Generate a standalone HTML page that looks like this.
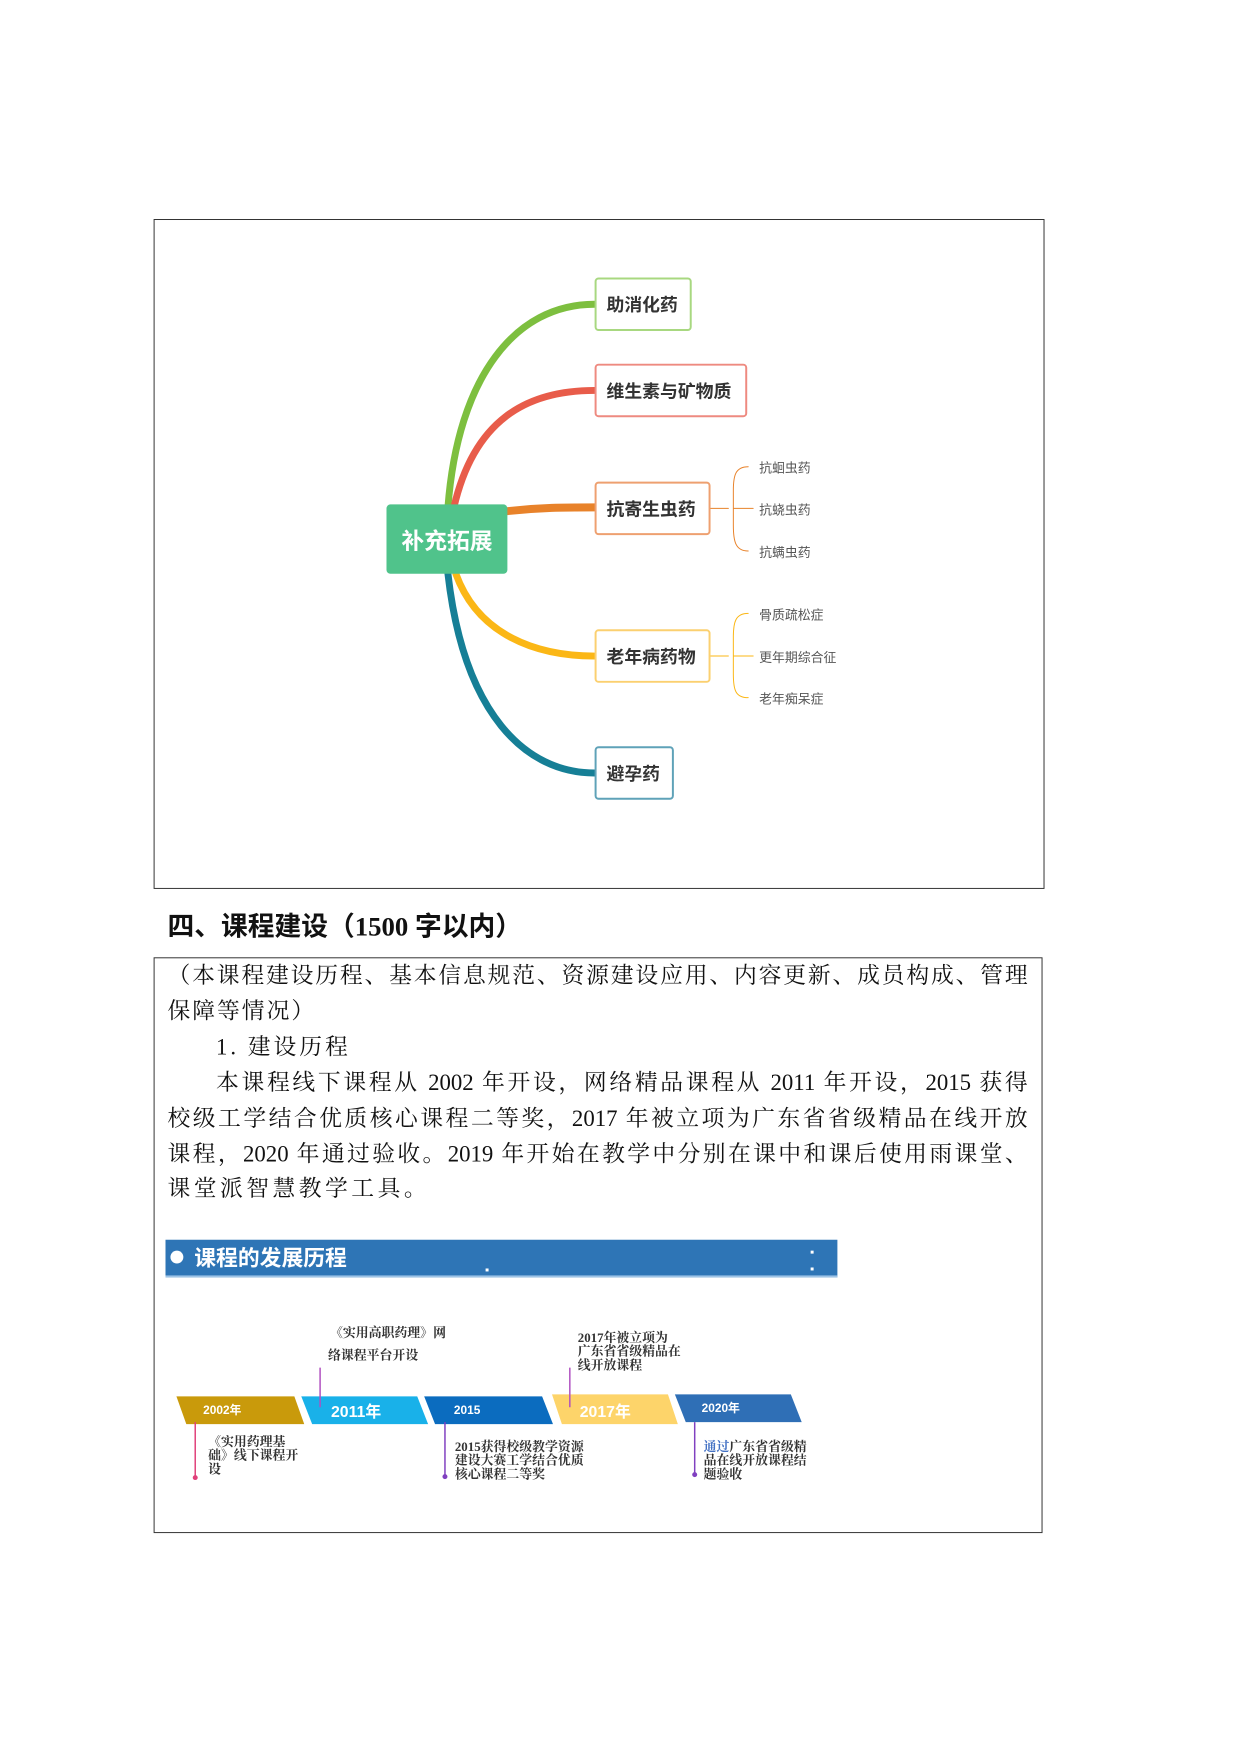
<!DOCTYPE html>
<html><head><meta charset="utf-8"><style>
body{margin:0;width:1240px;height:1753px;background:#fff;position:relative;overflow:hidden;font-family:"Liberation Serif","Noto Serif CJK SC",serif;}
#w{position:absolute;left:0;top:0;width:1240px;height:1753px;transform:scale(0.991);transform-origin:0 0;}
.a{position:absolute;}
.box{position:absolute;border:1.5px solid #333;}
.ln{position:absolute;left:169px;width:868px;font-size:23px;height:36px;line-height:36px;color:#111;white-space:nowrap;}
.j{text-align:justify;text-align-last:justify;}
.node{position:absolute;background:#fff;border:2px solid;border-radius:4px;font-family:"Liberation Sans","Noto Sans CJK SC",sans-serif;font-weight:bold;font-size:18px;color:#333;display:flex;align-items:center;padding-left:10px;box-sizing:border-box;}
.sub{position:absolute;font-family:"Liberation Sans","Noto Sans CJK SC",sans-serif;font-size:13px;color:#555;}
.tt{position:absolute;font-size:13px;font-weight:bold;color:#333;line-height:14px;white-space:nowrap;}
</style></head><body><div id="w">
<div class="box" style="left:155px;top:221px;width:897px;height:674px;"></div>
<svg class="a" style="left:0;top:0" width="1240" height="900">
<g fill="none" stroke-linecap="round">
<path d="M452,512 C462,380 520,307 600,307" stroke="#7dbf3f" stroke-width="7"/>
<path d="M458,512 C478,425 530,394 600,394" stroke="#e85c4a" stroke-width="7"/>
<path d="M510,516 C545,512 570,512 600,512" stroke="#e8822a" stroke-width="8"/>
<path d="M460,579 C482,640 540,662 600,662" stroke="#fbb716" stroke-width="7"/>
<path d="M452,579 C468,720 530,780 600,780" stroke="#167f96" stroke-width="7"/>
<path d="M717,513 H735 M755,471 C742,471 740,480 740,495 V530 C740,546 742,556 755,556 M740,513 H760" stroke="#e8822a" stroke-width="1"/>
<path d="M717,662 H735 M755,619 C742,619 740,628 740,643 V680 C740,696 742,704 755,704 M740,662 H760" stroke="#fbb716" stroke-width="1"/>
</g></svg>
<div class="a" style="left:390px;top:509px;width:122px;height:70px;background:#50c38b;border-radius:4px;color:#fff;font-family:'Liberation Sans','Noto Sans CJK SC',sans-serif;font-weight:bold;font-size:23px;display:flex;align-items:center;justify-content:center;">补充拓展</div>
<div class="node" style="left:600px;top:280px;width:98px;height:54px;border-color:#a8d880;">助消化药</div>
<div class="node" style="left:600px;top:367px;width:154px;height:54px;border-color:#ee8a80;">维生素与矿物质</div>
<div class="node" style="left:600px;top:486px;width:117px;height:54px;border-color:#eea070;">抗寄生虫药</div>
<div class="node" style="left:600px;top:635px;width:117px;height:54px;border-color:#fbd070;">老年病药物</div>
<div class="node" style="left:600px;top:753px;width:80px;height:54px;border-color:#5fa2b8;">避孕药</div>
<div class="sub" style="left:766px;top:462px">抗蛔虫药</div>
<div class="sub" style="left:766px;top:504px">抗蛲虫药</div>
<div class="sub" style="left:766px;top:547px">抗螨虫药</div>
<div class="sub" style="left:766px;top:610px">骨质疏松症</div>
<div class="sub" style="left:766px;top:653px">更年期综合征</div>
<div class="sub" style="left:766px;top:695px">老年痴呆症</div>

<div class="a" style="left:169px;top:913px;font-size:27px;color:#111;font-family:'Liberation Serif','Noto Sans CJK SC',serif;font-weight:bold;">四、课程建设（1500 字以内）</div>
<div class="box" style="left:155px;top:966px;width:895px;height:579px;"></div>
<div class="ln j" style="top:967px">（本课程建设历程、基本信息规范、资源建设应用、内容更新、成员构成、管理</div>
<div class="ln" style="top:1003px;letter-spacing:2px">保障等情况）</div>
<div class="ln" style="top:1039px;left:218px;letter-spacing:3px">1. 建设历程</div>
<div class="ln j" style="top:1075px;left:218px;width:819px">本课程线下课程从 2002 年开设，网络精品课程从 2011 年开设，2015 获得</div>
<div class="ln j" style="top:1111px">校级工学结合优质核心课程二等奖，2017 年被立项为广东省省级精品在线开放</div>
<div class="ln j" style="top:1147px">课程，2020 年通过验收。2019 年开始在教学中分别在课中和课后使用雨课堂、</div>
<div class="ln" style="top:1182px;letter-spacing:3.5px">课堂派智慧教学工具。</div>

<div class="a" style="left:167px;top:1251px;width:678px;height:36px;background:#2e75b6;border-bottom:2px solid #9dc3e6;"></div>
<div class="a" style="left:172px;top:1262px;width:13px;height:13px;border-radius:50%;background:#fff;"></div>
<div class="a" style="left:196px;top:1252px;color:#fff;font-weight:bold;font-size:22px;font-family:'Liberation Sans','Noto Sans CJK SC',sans-serif;">课程的发展历程</div>
<div class="a" style="left:818px;top:1262px;width:3px;height:3px;background:#fff"></div>
<div class="a" style="left:818px;top:1279px;width:3px;height:3px;background:#fff"></div>
<div class="a" style="left:490px;top:1280px;width:3px;height:3px;background:#fff"></div>

<svg class="a" style="left:0;top:1380px" width="900" height="130">
<g font-family="Liberation Sans, Noto Sans CJK SC, sans-serif" font-weight="bold" fill="#fff">
<polygon points="178,29 297,29 307,57 188,57" fill="#c99a0b"/>
<polygon points="304,29 421,29 432,57 315,57" fill="#19b1e9"/>
<polygon points="428,29 547,29 558,57 439,57" fill="#0b6cbf"/>
<polygon points="557,27 674,27 684,57 567,57" fill="#fdd46a"/>
<polygon points="681,27 798,27 809,55 692,55" fill="#2f6fb6"/>
<text x="205" y="47" font-size="12">2002年</text>
<text x="334" y="50" font-size="16">2011年</text>
<text x="458" y="47" font-size="12">2015</text>
<text x="585" y="50" font-size="16">2017年</text>
<text x="708" y="45" font-size="12">2020年</text>
</g>
<g stroke-width="1.5">
<line x1="323" y1="-22" x2="323" y2="40" stroke="#b050c0"/><circle cx="323" cy="-22" r="2.5" fill="#b050c0"/>
<line x1="575" y1="-22" x2="575" y2="40" stroke="#b050c0"/><circle cx="575" cy="-22" r="2.5" fill="#b050c0"/>
<line x1="197" y1="55" x2="197" y2="111" stroke="#e0407a"/><circle cx="197" cy="111" r="2.5" fill="#e0407a"/>
<line x1="449" y1="55" x2="449" y2="110" stroke="#8040c0"/><circle cx="449" cy="110" r="2.5" fill="#8040c0"/>
<line x1="701" y1="55" x2="701" y2="108" stroke="#8040c0"/><circle cx="701" cy="108" r="2.5" fill="#8040c0"/>
</g></svg>
<div class="tt" style="left:333px;top:1338px">《实用高职药理》网</div>
<div class="tt" style="left:331px;top:1361px">络课程平台开设</div>
<div class="tt" style="left:583px;top:1343px">2017年被立项为<br>广东省省级精品在<br>线开放课程</div>
<div class="tt" style="left:210px;top:1448px">《实用药理基<br>础》线下课程开<br>设</div>
<div class="tt" style="left:459px;top:1453px">2015获得校级教学资源<br>建设大赛工学结合优质<br>核心课程二等奖</div>
<div class="tt" style="left:710px;top:1453px"><span style="color:#4472c4">通过</span>广东省省级精<br>品在线开放课程结<br>题验收</div>
</div></body></html>
